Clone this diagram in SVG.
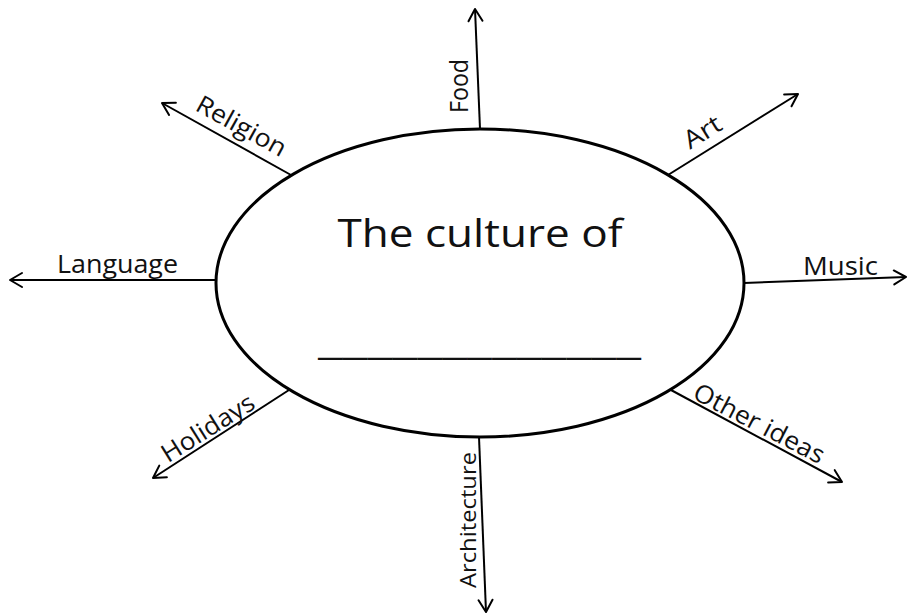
<svg xmlns="http://www.w3.org/2000/svg" width="909" height="615" viewBox="0 0 909 615">
<style>
.c{stroke:#000;stroke-width:2;fill:none;marker-end:url(#ah)}
.t{font-family:"Open Sans","Liberation Sans",sans-serif;fill:#111;text-anchor:middle}
.l{font-size:25px}
</style>
<defs>
<marker id="ah" markerUnits="userSpaceOnUse" markerWidth="30" markerHeight="30" viewBox="-15 -15 30 30" refX="0" refY="0" orient="auto">
<path d="M-12,-7 L0,0 L-12,7" fill="none" stroke="#000" stroke-width="2" stroke-linecap="round" stroke-linejoin="round"/>
</marker>
</defs>
<rect width="909" height="615" fill="#fff"/>
<g id="connectors">
<line class="c" x1="480" y1="129" x2="475" y2="9"/>
<line class="c" x1="668" y1="175" x2="798" y2="94"/>
<line class="c" x1="744" y1="283" x2="906" y2="277"/>
<line class="c" x1="671" y1="390" x2="842" y2="482"/>
<line class="c" x1="479" y1="437" x2="486" y2="612"/>
<line class="c" x1="289" y1="390" x2="153" y2="478"/>
<line class="c" x1="216" y1="280" x2="10" y2="280"/>
<line class="c" x1="291" y1="175" x2="162" y2="103"/>
</g>
<g id="center">
<ellipse cx="480" cy="283" rx="264" ry="154" fill="none" stroke="#000" stroke-width="3"/>
<text class="t" x="480" y="247" font-size="39" textLength="285" lengthAdjust="spacingAndGlyphs">The culture of</text>
<text class="t" x="479.5" y="354" font-size="39" textLength="323" lengthAdjust="spacingAndGlyphs">_____________</text>
</g>
<g id="food"><text class="t" transform="translate(468,86) rotate(-90)" font-size="25" textLength="54" lengthAdjust="spacingAndGlyphs">Food</text></g>
<g id="art"><text class="t l" transform="translate(707,139.3) rotate(-31.9)" textLength="40" lengthAdjust="spacingAndGlyphs">Art</text></g>
<g id="music"><text class="t l" x="840.5" y="275" textLength="75" lengthAdjust="spacingAndGlyphs">Music</text></g>
<g id="other-ideas"><text class="t l" transform="translate(755.2,431.1) rotate(27.5)" textLength="144" lengthAdjust="spacingAndGlyphs">Other ideas</text></g>
<g id="architecture"><text class="t" transform="translate(475.5,520) rotate(-90)" font-size="22" textLength="136" lengthAdjust="spacingAndGlyphs">Architecture</text></g>
<g id="holidays"><text class="t l" transform="translate(212.4,435.3) rotate(-32.2)" textLength="105" lengthAdjust="spacingAndGlyphs">Holidays</text></g>
<g id="language"><text class="t l" x="117.5" y="273.3" textLength="121" lengthAdjust="spacingAndGlyphs">Language</text></g>
<g id="religion"><text class="t l" transform="translate(237.4,133.6) rotate(28.9)" textLength="99" lengthAdjust="spacingAndGlyphs">Religion</text></g>
</svg>
